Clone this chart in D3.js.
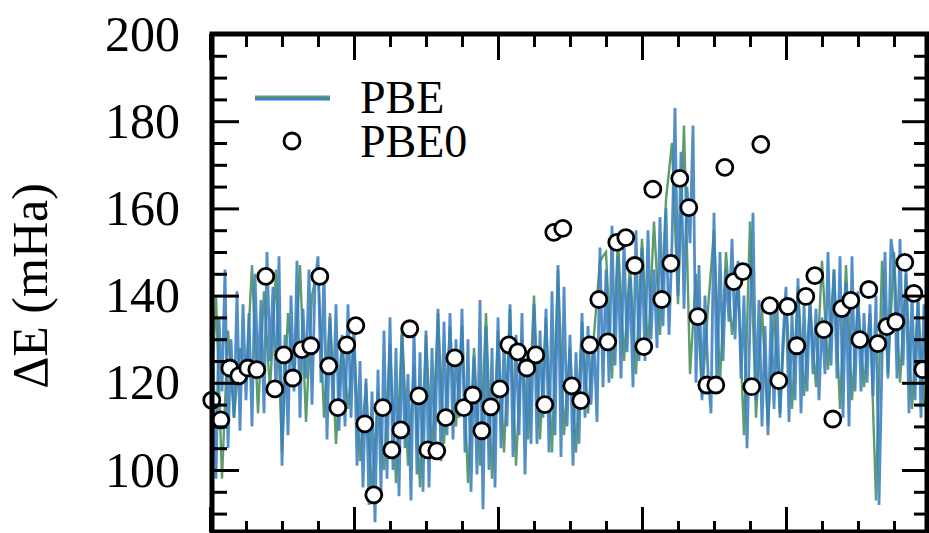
<!DOCTYPE html>
<html>
<head>
<meta charset="utf-8">
<script src="https://cdn.jsdelivr.net/npm/d3@7"></script>
<style>
  body { margin: 0; background: #fff; }
  svg { display: block; }
  .tick line { stroke: #000; stroke-width: 3; }
  .tick text { font-family: "Liberation Serif", "Times New Roman", serif; font-size: 50px; fill: #000; }
</style>
</head>
<body>
<div id="chart"></div>
<script>
// PBE (blue), one value every 1/3 unit
var pbeBlue = [
  101, 126, 98, 135, 118, 146, 105, 130, 112, 141, 109, 138,
  116, 136, 110, 145, 121, 139, 113, 150, 125, 142, 117, 149,
  101, 131, 108, 140, 118, 148, 112, 137, 121, 146, 115, 143,
  149, 120, 146, 107, 135, 114, 138, 109, 131, 110, 138, 112,
  134, 101, 125, 96, 121, 92, 118, 88, 123, 95, 132, 98,
  135, 100, 128, 94, 131, 105, 122, 93, 133, 99, 127, 95,
  132, 96, 128, 105, 137, 102, 134, 108, 136, 107, 130, 112,
  137, 104, 130, 95, 126, 99, 139, 91, 133, 100, 128, 96,
  135, 105, 129, 110, 138, 103, 131, 108, 136, 99, 127, 106,
  138, 106, 132, 112, 137, 104, 141, 108, 147, 103, 142, 110,
  131, 101, 127, 106, 136, 112, 133, 115, 130, 111, 151, 119,
  146, 120, 156, 124, 149, 121, 153, 127, 144, 119, 155, 125,
  151, 125, 155, 130, 146, 128, 158, 133, 160, 131, 152, 183,
  140, 173, 137, 165, 152, 179, 120, 147, 116, 140, 122, 113,
  159, 118, 150, 125, 146, 134, 153, 130, 148, 121, 140, 105,
  134, 159, 116, 139, 110, 133, 108, 136, 114, 139, 112, 130,
  142, 111, 136, 116, 144, 113, 138, 118, 140, 122, 137, 116,
  135, 122, 150, 124, 146, 121, 149, 112, 143, 110, 149, 118,
  141, 118, 136, 120, 138, 117, 140, 92, 125, 150, 121, 153,
  148, 121, 153, 124, 146, 113, 141, 116, 140, 112, 138, 118
];

// PBE (green), one value every 2/3 unit
var pbeGreen = [
  108, 140, 98, 132, 112, 128,
  120, 147, 113, 141, 118, 146,
  104, 136, 120, 147, 111, 140,
  147, 112, 136, 106, 130, 114,
  130, 102, 120, 94, 118, 100,
  129, 97, 133, 101, 124, 96,
  131, 103, 136, 106, 133, 110,
  133, 97, 128, 101, 136, 98,
  132, 104, 137, 101, 130, 107,
  140, 107, 135, 104, 146, 108,
  128, 104, 134, 113, 131, 148,
  150, 121, 153, 125, 147, 122,
  153, 127, 157, 131, 162, 175,
  138, 179, 122, 145, 117, 137,
  155, 120, 150, 131, 143, 108,
  157, 112, 137, 110, 137, 113,
  140, 114, 142, 117, 138, 119,
  148, 123, 146, 114, 147, 116,
  139, 119, 136, 93, 148, 122,
  150, 120, 145, 114, 139, 115
];

// PBE0 points
var pbe0 = [
  116, 111.5, 123.4, 121.6, 123.4, 123, 144.4, 118.6, 126.4, 121.1,
  127.6, 128.5, 144.4, 123.9, 114.3, 128.7, 133.1, 110.6, 94.3, 114.3,
  104.6, 109.2, 132.4, 117, 104.6, 104.4, 112, 125.7, 114.3, 117.2,
  109, 114.5, 118.6, 128.7, 127.1, 123.4, 126.4, 115, 154.5, 155.4,
  119.3, 115.9, 128.7, 139.1, 129.4, 152.2, 153.3, 146.9, 128.3, 164.4,
  139.1, 147.4, 166.9, 160.2, 135.2, 119.5, 119.5, 169.4, 143.2, 145.5,
  119.1, 174.7, 137.7, 120.5, 137.5, 128.5, 139.8, 144.6, 132.2, 111.7,
  137, 138.9, 129.9, 141.4, 129, 132.9, 134, 147.6, 140.5, 123
];

var yMajor = [100, 120, 140, 160, 180, 200];
var yMinor = d3.range(90, 200, 5).filter(function(d) { return d % 20 !== 0; });
var xMajor = [0, 16, 32, 48, 64, 80];
var xMinor = d3.range(4, 80, 4).filter(function(d) { return d % 16 !== 0; });

var W = 929, H = 533;
var plotL = 212, plotR = 927, plotT = 34, plotB = 532;

var svg = d3.select("#chart").append("svg")
    .attr("width", W)
    .attr("height", H);

var x = d3.scaleLinear().domain([0, 80]).range([210, 930]);
var y = d3.scaleLinear().domain([100, 200]).range([470, plotT]);

svg.append("clipPath").attr("id", "clip")
  .append("rect")
    .attr("x", plotL).attr("y", plotT)
    .attr("width", plotR - plotL).attr("height", plotB - plotT);

var plot = svg.append("g").attr("clip-path", "url(#clip)");

var lineG = d3.line()
    .x(function(d, i) { return x(i * 2 / 3); })
    .y(function(d) { return y(d); });
var lineB = d3.line()
    .x(function(d, i) { return x(i / 3); })
    .y(function(d) { return y(d); });

plot.append("path")
    .datum(pbeGreen)
    .attr("fill", "none")
    .attr("stroke", "#5f9c6c")
    .attr("stroke-width", 2.4)
    .attr("d", lineG);

plot.append("path")
    .datum(pbeBlue)
    .attr("fill", "none")
    .attr("stroke", "#3a7fc0")
    .attr("stroke-width", 2.8)
    .attr("stroke-opacity", 0.88)
    .attr("d", lineB);

svg.append("g")
  .selectAll("circle")
  .data(pbe0)
  .enter().append("circle")
    .attr("cx", function(d, i) { return x(i + 0.2); })
    .attr("cy", function(d) { return y(d); })
    .attr("r", 8)
    .attr("fill", "#fff")
    .attr("stroke", "#000")
    .attr("stroke-width", 2.8);

// axes, ticks pointing inward
function ticks(axis, vals, size, fmt, tx) {
  var g = svg.append("g")
      .attr("transform", tx)
      .call(axis.tickValues(vals).tickSize(-size).tickPadding(32).tickFormat(fmt));
  g.select(".domain").remove();
  return g;
}
var none = function() { return ""; };
ticks(d3.axisLeft(y), yMajor, 27, d3.format("d"), "translate(" + plotL + ",0)");
ticks(d3.axisLeft(y), yMinor, 15, none, "translate(" + plotL + ",0)");
ticks(d3.axisRight(y), yMajor, 25, none, "translate(" + plotR + ",0)");
ticks(d3.axisRight(y), yMinor, 13, none, "translate(" + plotR + ",0)");
ticks(d3.axisTop(x), xMajor, 26, none, "translate(0," + plotT + ")");
ticks(d3.axisTop(x), xMinor, 13, none, "translate(0," + plotT + ")");
ticks(d3.axisBottom(x), xMajor, 25, none, "translate(0," + plotB + ")");
ticks(d3.axisBottom(x), xMinor, 11, none, "translate(0," + plotB + ")");

svg.append("rect")
    .attr("x", plotL).attr("y", plotT)
    .attr("width", plotR - plotL).attr("height", plotB - plotT)
    .attr("fill", "none")
    .attr("stroke", "#000")
    .attr("stroke-width", 5);

svg.append("text")
    .attr("transform", "translate(47,286) rotate(-90)")
    .attr("text-anchor", "middle")
    .style("font-family", "'Liberation Serif', 'Times New Roman', serif")
    .style("font-size", "50px")
    .text("ΔE (mHa)");

// legend
var legend = svg.append("g");
legend.append("line")
    .attr("x1", 255).attr("x2", 330).attr("y1", 97).attr("y2", 97)
    .attr("stroke", "#5f9c6c").attr("stroke-width", 3);
legend.append("line")
    .attr("x1", 255).attr("x2", 330).attr("y1", 99).attr("y2", 99)
    .attr("stroke", "#3a7fc0").attr("stroke-width", 3);
legend.append("circle")
    .attr("cx", 292).attr("cy", 141).attr("r", 8)
    .attr("fill", "#fff").attr("stroke", "#000").attr("stroke-width", 2.8);
legend.selectAll("text")
  .data(["PBE", "PBE0"])
  .enter().append("text")
    .attr("x", 360)
    .attr("y", function(d, i) { return 113 + i * 44; })
    .style("font-family", "'Liberation Serif', 'Times New Roman', serif")
    .style("font-size", "46px")
    .text(function(d) { return d; });
</script>
</body>
</html>
